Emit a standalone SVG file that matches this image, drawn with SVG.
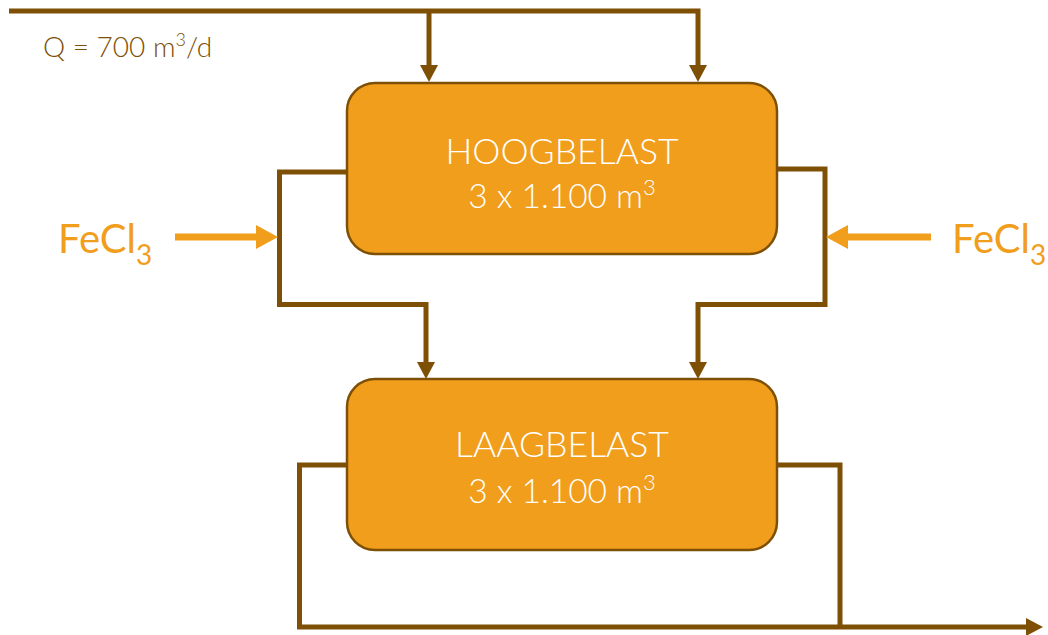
<svg xmlns="http://www.w3.org/2000/svg" width="1048" height="635" viewBox="0 0 1048 635">
  <style>
    .flow { fill: none; stroke: #7E5006; stroke-width: 5; stroke-linejoin: miter; }
    .dose { fill: none; stroke: #F09E1C; stroke-width: 7; }
    .tank { fill: #F09E1C; stroke: #7E5006; stroke-width: 2.5; }
    .tank-label { fill: #FFFFFF; font-family: Lato, "Open Sans", sans-serif; font-weight: 300; font-size: 35.5px; text-anchor: middle; }
    .tank-size { font-size: 33.5px; }
    .flow-label { fill: #7E5006; font-family: Lato, "Open Sans", sans-serif; font-weight: 300; font-size: 28px; }
    .chem-label { fill: #F09E1C; font-family: Lato, "Open Sans", sans-serif; font-size: 40px; }
  </style>
  <defs>
    <marker id="arrow-brown" markerUnits="userSpaceOnUse" markerWidth="18" markerHeight="18" refX="0" refY="9" orient="auto" overflow="visible">
      <path d="M0,0 L17,9 L0,18 z" fill="#7E5006"/>
    </marker>
    <marker id="arrow-orange" markerUnits="userSpaceOnUse" markerWidth="22" markerHeight="24" refX="0" refY="12" orient="auto" overflow="visible">
      <path d="M0,0 L22,12 L0,24 z" fill="#F09E1C"/>
    </marker>
  </defs>

  <!-- influent flow label -->
  <text class="flow-label" x="43" y="57">Q = 700 m<tspan font-size="18" dy="-11">3</tspan><tspan dy="11">/d</tspan></text>

  <g id="connectors">
    <!-- influent header feeding both tanks -->
    <path class="flow" d="M9,11 H698 V65" marker-end="url(#arrow-brown)"/>
    <path class="flow" d="M429,11 V65" marker-end="url(#arrow-brown)"/>
    <!-- overflow from high-load tank to low-load tank -->
    <path class="flow" d="M347,172 H279.5 V304.5 H426 V362" marker-end="url(#arrow-brown)"/>
    <path class="flow" d="M777,169 H825 V304.5 H698 V362" marker-end="url(#arrow-brown)"/>
    <!-- effluent -->
    <path class="flow" d="M347,465 H299.5 V627 H1026" marker-end="url(#arrow-brown)"/>
    <path class="flow" d="M777,465 H840 V627"/>
    <!-- ferric chloride dosing -->
    <path class="dose" d="M175,237 H256" marker-end="url(#arrow-orange)"/>
    <path class="dose" d="M931,237 H848" marker-end="url(#arrow-orange)"/>
  </g>

  <g id="hoogbelast">
    <rect class="tank" x="347" y="83" width="430" height="171" rx="28" ry="28"/>
    <text class="tank-label" x="562" y="164">HOOGBELAST</text>
    <text class="tank-label tank-size" x="562" y="208">3 x 1.100 m<tspan font-size="22" dy="-13">3</tspan></text>
  </g>

  <g id="laagbelast">
    <rect class="tank" x="347" y="379" width="430" height="171" rx="28" ry="28"/>
    <text class="tank-label" x="562" y="457">LAAGBELAST</text>
    <text class="tank-label tank-size" x="562" y="503">3 x 1.100 m<tspan font-size="22" dy="-13">3</tspan></text>
  </g>

  <g id="fecl3-left">
    <text class="chem-label" x="58" y="253">FeCl<tspan font-size="28" dy="12">3</tspan></text>
  </g>
  <g id="fecl3-right">
    <text class="chem-label" x="952" y="253">FeCl<tspan font-size="28" dy="12">3</tspan></text>
  </g>
</svg>
